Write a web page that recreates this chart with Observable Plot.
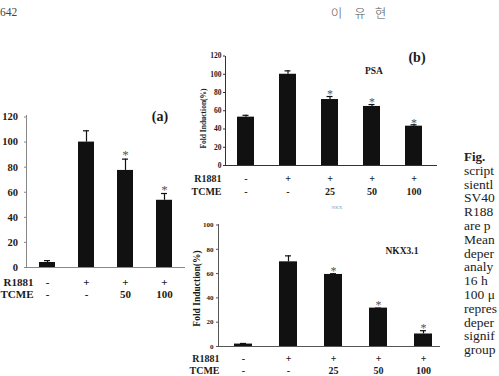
<!DOCTYPE html>
<html><head><meta charset="utf-8">
<script src="https://cdn.jsdelivr.net/npm/d3@7"></script>
<script src="https://cdn.jsdelivr.net/npm/@observablehq/plot@0.6"></script>
<style>
html,body{margin:0;padding:0;background:#fff;}
#page{position:relative;width:499px;height:376px;overflow:hidden;background:#fff;font-family:"Liberation Serif",serif;color:#1a1a1a;}
#page svg{position:absolute;left:0;top:0;}
.lbl{position:absolute;white-space:nowrap;transform:translate(-50%,-50%);line-height:1;}
.cap{position:absolute;left:464px;white-space:nowrap;font-size:13.5px;line-height:13px;height:13px;transform:translateY(-50%);color:#222;}
</style></head><body><div id="page"></div>
<script>
// ---------- data ----------
const rowLabels = ["R1881", "TCME"];

// (a)
const groupsA = ["Control", "R1881", "R1881+TCME 50", "R1881+TCME 100"];
const r1881A = ["-", "+", "+", "+"];
const tcmeA = ["-", "-", "50", "100"];
const valuesA = [4, 100, 77.4, 53.6];
const errA = [5.5, 109, 86.4, 59];
const sigA = ["", "", "*", "*"];
const ticksA = [0, 20, 40, 60, 80, 100, 120];

// (b) PSA
const groupsB = ["Control", "R1881", "R1881+TCME 25", "R1881+TCME 50", "R1881+TCME 100"];
const r1881B = ["-", "+", "+", "+", "+"];
const tcmeB = ["-", "-", "25", "50", "100"];
const valuesPSA = [53, 100, 72.3, 64.7, 43.1];
const errPSA = [55, 103.7, 75.6, 66.8, 44.6];
const sigPSA = ["", "", "*", "*", "*"];
const ticksPSA = [0, 20, 40, 60, 80, 100, 120];

// (b) NKX3.1
const valuesNKX = [2, 69.7, 59.3, 31.6, 10.3];
const errNKX = [2.5, 74.6, 59.9, 31.6, 13];
const sigNKX = ["", "", "*", "*", "*"];
const ticksNKX = [0, 20, 40, 60, 80, 100];

// page text (only the parts visible on the cropped page)
const pageNumber = "642";
const authorChars = ["이", "유", "현"];
const captionLines = ["Fig.", "script", "sientl", "SV40", "R188", "are p", "Mean", "deper", "analy", "16 h", "100 μ", "repres", "deper", "signif", "group"];

// ---------- helpers ----------
const page = document.getElementById("page");
const table = (groups, vals, errs, sigs, r, t) =>
  groups.map((g, i) => ({group: g, value: vals[i], err: errs[i], sig: sigs[i], r: r[i], t: t[i]}));

function barChart(cfg) {
  const data = table(cfg.groups, cfg.values, cfg.errs, cfg.sigs, cfg.r, cfg.t);
  const ink = "#111";
  return Plot.plot({
    width: 499, height: 376,
    marginLeft: cfg.frame[0], marginRight: 499 - cfg.frame[1],
    marginTop: cfg.frame[2], marginBottom: 376 - cfg.frame[3],
    style: {background: "transparent", fontFamily: "Liberation Serif, serif", overflow: "visible", color: "#1a1a1a"},
    x: {type: "band", domain: cfg.groups, range: cfg.xRange, paddingInner: cfg.pad, paddingOuter: cfg.pad / 2, axis: null},
    y: {domain: cfg.yDomain, range: cfg.yRange, axis: null},
    marks: [
      Plot.barY(data, {x: "group", y: "value", fill: ink}),
      Plot.ruleX(data, {x: "group", y1: "value", y2: "err", stroke: ink, strokeWidth: 1.2}),
      Plot.tickY(data, {x: "group", y: "err", stroke: ink, strokeWidth: 1.2, insetLeft: cfg.cap, insetRight: cfg.cap}),
      Plot.text(data, {x: "group", y: "err", text: "sig", dy: cfg.starDy, fontSize: cfg.starSize, fill: "#555", lineAnchor: "middle"}),
      Plot.text(data, {x: "group", text: "r", frameAnchor: "bottom", dy: cfg.rowDy[0], fontSize: cfg.rowSize, fontWeight: "bold", lineAnchor: "middle", textAnchor: "middle"}),
      Plot.text(data, {x: "group", text: "t", frameAnchor: "bottom", dy: cfg.rowDy[1], fontSize: cfg.rowSize, fontWeight: "bold", lineAnchor: "middle", textAnchor: "middle"}),
      Plot.text([rowLabels[0]], {text: d => d, frameAnchor: "bottom-left", dx: cfg.rowDx, dy: cfg.rowDy[0], fontSize: cfg.rowSize, fontWeight: "bold", textAnchor: "end", lineAnchor: "middle"}),
      Plot.text([rowLabels[1]], {text: d => d, frameAnchor: "bottom-left", dx: cfg.rowDx, dy: cfg.rowDy[1], fontSize: cfg.rowSize, fontWeight: "bold", textAnchor: "end", lineAnchor: "middle"}),
      Plot.ruleY([0], {stroke: cfg.axisColor, strokeWidth: 1}),
      Plot.frame({anchor: "left", stroke: cfg.axisColor, strokeWidth: 1}),
      Plot.axisY({ticks: cfg.ticks, tickSize: 2, tickPadding: cfg.tickPad, fontSize: cfg.tickSize, fontWeight: "bold", label: null, stroke: cfg.axisColor}),
      ...(cfg.yLabel ? [Plot.text([cfg.yLabel], {text: d => d, frameAnchor: "left", rotate: -90, dx: cfg.yLabelDx, dy: cfg.yLabelDy, fontSize: cfg.yLabelSize, fontWeight: "bold", lineAnchor: "middle", textAnchor: "middle"})] : [])
    ]
  });
}

// (a)
page.appendChild(barChart({
  groups: groupsA, values: valuesA, errs: errA, sigs: sigA, r: r1881A, t: tcmeA,
  frame: [26, 185, 115, 267], xRange: [26.25, 184.25], pad: 0.58,
  yDomain: [0, 120], yRange: [267, 116.5], ticks: ticksA, tickPad: 6.5, tickSize: 10.5,
  cap: 5, starDy: -4, starSize: 13, rowDy: [14.5, 27], rowSize: 11, rowDx: 7, axisColor: "#888"
}));

// (b) PSA
page.appendChild(barChart({
  groups: groupsB, values: valuesPSA, errs: errPSA, sigs: sigPSA, r: r1881B, t: tcmeB,
  frame: [225, 437, 56, 165], xRange: [224, 434.6], pad: 0.59,
  yDomain: [0, 120], yRange: [165, 55.5], ticks: ticksPSA, tickPad: 2, tickSize: 7.5,
  cap: 5.5, starDy: -2, starSize: 12, rowDy: [13, 26.5], rowSize: 10, rowDx: -4, axisColor: "#333",
  yLabel: "Fold Induction(%)", yLabelDx: -22, yLabelDy: 7.5, yLabelSize: 7.5
}));

// (b) NKX3.1
page.appendChild(barChart({
  groups: groupsB, values: valuesNKX, errs: errNKX, sigs: sigNKX, r: r1881B, t: tcmeB,
  frame: [218, 440, 224, 346], xRange: [218, 447.5], pad: 0.6,
  yDomain: [0, 100], yRange: [346, 224.5], ticks: ticksNKX, tickPad: 3, tickSize: 7,
  cap: 6, starDy: -3, starSize: 12, rowDy: [12, 24.7], rowSize: 10, rowDx: 1, axisColor: "#555",
  yLabel: "Fold Induction(%)", yLabelDx: -21.5, yLabelDy: 3, yLabelSize: 9.5
}));

// ---------- annotations ----------
function label(text, x, y, css) {
  const d = document.createElement("div");
  d.className = "lbl";
  d.textContent = text;
  d.style.left = x + "px";
  d.style.top = y + "px";
  Object.assign(d.style, css || {});
  page.appendChild(d);
}
label("(a)", 160, 117, {fontSize: "14px", fontWeight: "bold"});
label("(b)", 417, 58, {fontSize: "14px", fontWeight: "bold"});
label("PSA", 374, 72, {fontSize: "9.5px", fontWeight: "bold"});
label("NKX3.1", 402, 252, {fontSize: "9.5px", fontWeight: "bold"});
label("NKX", 337, 207, {fontSize: "5px", color: "#999"});
label(pageNumber, 8.5, 13, {fontSize: "11.5px", color: "#444"});
const authorX = [336.5, 360, 380.5];
authorChars.forEach((c, i) => label(c, authorX[i], 13, {fontSize: "12.5px", color: "#555", fontFamily: "'Noto Sans CJK KR', sans-serif", fontWeight: "300"}));

captionLines.forEach((t, i) => {
  const d = document.createElement("div");
  d.className = "cap";
  d.textContent = t;
  d.style.top = (156 + i * 13.8) + "px";
  if (i === 0) { d.style.fontWeight = "bold"; d.style.fontSize = "13px"; }
  page.appendChild(d);
});
</script>
</body></html>
